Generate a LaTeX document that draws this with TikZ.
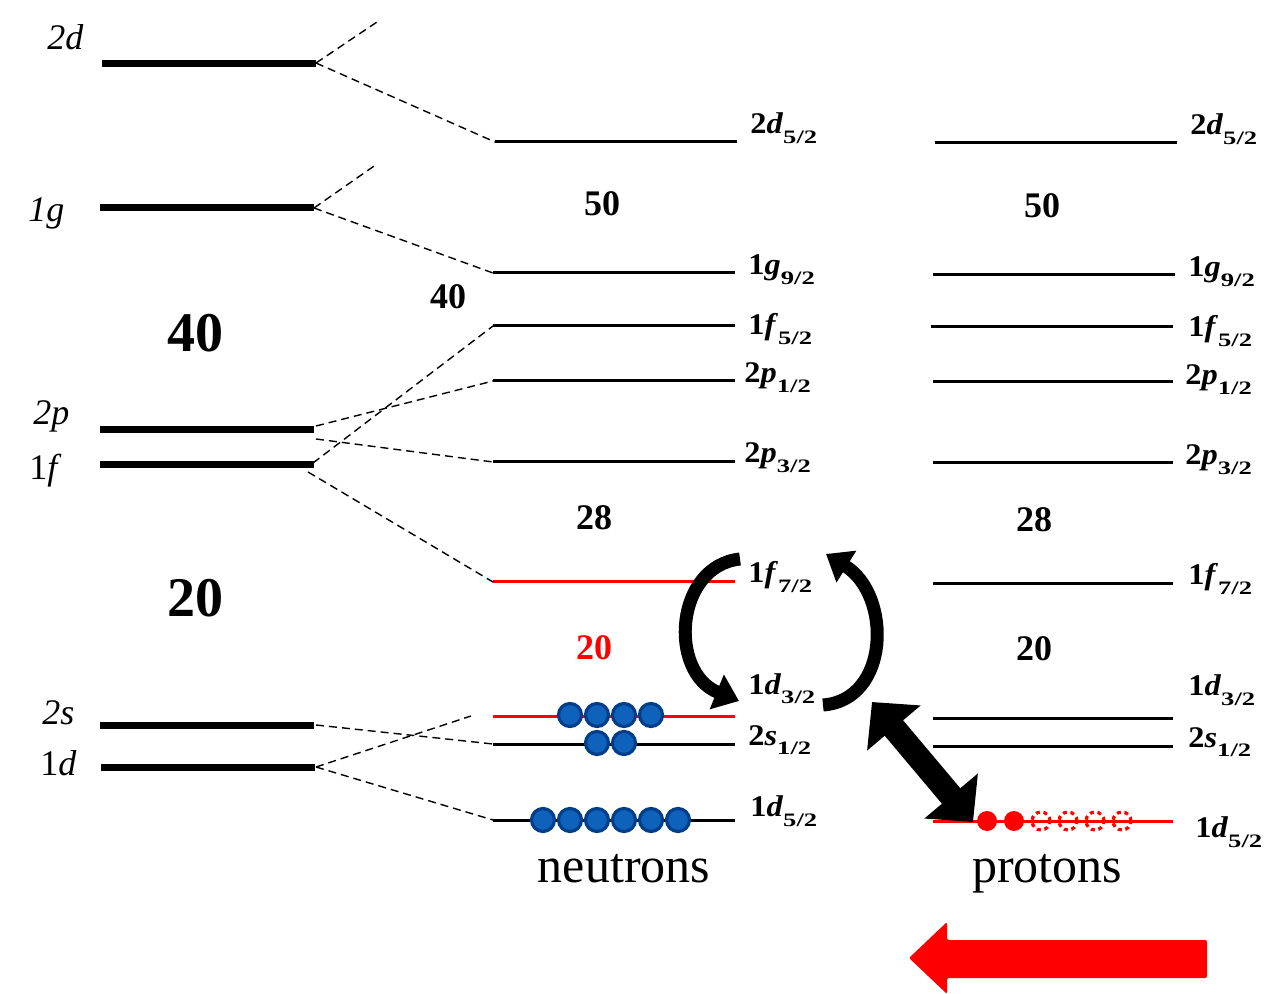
\documentclass[tikz,border=0pt]{standalone}
\usepackage{fontspec}
\setmainfont{Liberation Serif}
\usetikzlibrary{arrows.meta}
\definecolor{ballfill}{RGB}{14,98,188}
\definecolor{ballline}{RGB}{0,62,138}
\newcommand{\jlab}[3]{\fontsize{15}{15}\selectfont\scalebox{1.08}[1]{\textbf{#1\textit{#2}}}\raisebox{-5pt}{\scalebox{1.4}[1]{\fontsize{9.5}{9.5}\selectfont\textbf{#3}}}}
\newcommand{\llab}[2]{\fontsize{18}{18}\selectfont #1\textit{#2}}
\begin{document}
\begin{tikzpicture}[x=0.5pt,y=-0.5pt,
  thicklvl/.style={line width=3.5pt},
  lvl/.style={line width=1.5pt},
  redlvl/.style={line width=1.5pt, draw=red},
  split/.style={line width=0.7pt, dash pattern=on 4pt off 2.5pt},
  jl/.style={anchor=base west, inner sep=0pt},
  ll/.style={anchor=base west, inner sep=0pt},
  magic/.style={anchor=base, inner sep=0pt, font=\fontsize{18}{18}\selectfont\bfseries},
  bigmagic/.style={anchor=base, inner sep=0pt, font=\fontsize{28}{28}\selectfont\bfseries},
  side/.style={anchor=base, inner sep=0pt, font=\fontsize{25}{25}\selectfont},
  nball/.style={circle, fill=ballfill, draw=ballline, line width=1.6pt, minimum size=11.5pt, inner sep=0pt},
  pball/.style={circle, fill=red, minimum size=10pt, inner sep=0pt},
  hole/.style={circle, draw=red, line width=1.6pt, dash pattern=on 2pt off 1.8pt, minimum size=9pt, inner sep=0pt},
  curvarrow/.style={line width=6.5pt, -{Triangle[length=12pt,width=18pt]}}
]
\useasboundingbox (0,0) rectangle (1270,994);

% ---------- left: unsplit levels ----------
\coordinate (A1) at (102,64);  \coordinate (A2) at (316,64);
\coordinate (B1) at (100,208); \coordinate (B2) at (314,208);
\coordinate (C1) at (100,430); \coordinate (C2) at (314,430);
\coordinate (D1) at (100,465); \coordinate (D2) at (314,465);
\coordinate (E1) at (100,725); \coordinate (E2) at (314,725);
\coordinate (F1) at (101,767); \coordinate (F2) at (315,767);
\draw[thicklvl] (A1) -- (A2);
\draw[thicklvl] (B1) -- (B2);
\draw[thicklvl] (C1) -- (C2);
\draw[thicklvl] (D1) -- (D2);
\draw[thicklvl] (E1) -- (E2);
\draw[thicklvl] (F1) -- (F2);
\node[ll] (l2d) at (47,50)  {\llab{}{2d}};
\node[ll] (l1g) at (28,222) {\llab{}{1g}};
\node[ll] (l2p) at (33,425) {\llab{}{2p}};
\node[ll] (l1f) at (29,480) {\llab{1}{f}};
\node[ll] (l2s) at (42,725) {\llab{}{2s}};
\node[ll] (l1d) at (40,775) {\llab{1}{d}};
\node[bigmagic] (m40L) at (195,352) {40};
\node[bigmagic] (m20L) at (195,617) {20};

% ---------- neutrons ----------
\coordinate (n1a) at (495,142); \coordinate (n1b) at (737,142);
\coordinate (n2a) at (493,273); \coordinate (n2b) at (735,273);
\coordinate (n3a) at (493,326); \coordinate (n3b) at (735,326);
\coordinate (n4a) at (493,381); \coordinate (n4b) at (735,381);
\coordinate (n5a) at (493,462); \coordinate (n5b) at (735,462);
\coordinate (n6a) at (493,582); \coordinate (n6b) at (735,582);
\coordinate (n7a) at (493,716); \coordinate (n7b) at (735,716);
\coordinate (n8a) at (493,744); \coordinate (n8b) at (735,744);
\coordinate (n9a) at (493,820); \coordinate (n9b) at (735,820);
\draw[lvl] (n1a) -- (n1b);
\draw[lvl] (n2a) -- (n2b);
\draw[lvl] (n3a) -- (n3b);
\draw[lvl] (n4a) -- (n4b);
\draw[lvl] (n5a) -- (n5b);
\draw[redlvl] (n6a) -- (n6b);
\draw[redlvl] (n7a) -- (n7b);
\draw[lvl] (n8a) -- (n8b);
\draw[lvl] (n9a) -- (n9b);
\node[jl] (nj1) at (750,134) {\jlab{2}{d}{5/2}};
\node[jl] (nj2) at (748,275) {\jlab{1}{g}{9/2}};
\node[jl] (nj3) at (748,335) {\jlab{1}{f}{5/2}};
\node[jl] (nj4) at (744,383) {\jlab{2}{p}{1/2}};
\node[jl] (nj5) at (744,463) {\jlab{2}{p}{3/2}};
\node[jl] (nj6) at (748,583) {\jlab{1}{f}{7/2}};
\node[jl] (nj7) at (748,694) {\jlab{1}{d}{3/2}};
\node[jl] (nj8) at (748,745) {\jlab{2}{s}{1/2}};
\node[jl] (nj9) at (750,816) {\jlab{1}{d}{5/2}};
\node[magic] (nm50) at (602,216) {50};
\node[magic] (nm40) at (448,309) {40};
\node[magic] (nm28) at (594,530) {28};
\node[magic, text=red] (nm20) at (594,660) {20};
\node[side] (neut) at (624,882) {neutrons};

% neutron occupation
\foreach \x in {570,597,624,651} \node[nball] at (\x,715) {};
\foreach \x in {597,624} \node[nball] at (\x,743) {};
\foreach \x in {543,570,597,624,651,678} \node[nball] at (\x,820) {};

% ---------- splitting lines ----------
\coordinate (s2d) at (380,20);
\coordinate (s1g) at (377,164);
\coordinate (s1d) at (471,716);
\draw[split] (316,63) -- (s2d);
\draw[split] (316,63) -- (n1a);
\draw[split] (314,208) -- (s1g);
\draw[split] (314,208) -- (n2a);
\draw[split] (316,426) -- (n4a);
\draw[split] (316,439) -- (n5a);
\draw[split] (313,463) -- (n3a);
\draw[split] (308,472) -- (n6a);
\draw[split] (316,725) -- (n8a);
\draw[split] (316,767) -- (s1d);
\draw[split] (316,767) -- (n9a);

% ---------- protons ----------
\coordinate (p1a) at (935,143); \coordinate (p1b) at (1177,143);
\coordinate (p2a) at (933,275); \coordinate (p2b) at (1175,275);
\coordinate (p3a) at (931,327); \coordinate (p3b) at (1173,327);
\coordinate (p4a) at (933,382); \coordinate (p4b) at (1173,382);
\coordinate (p5a) at (933,463); \coordinate (p5b) at (1173,463);
\coordinate (p6a) at (933,584); \coordinate (p6b) at (1173,584);
\coordinate (p7a) at (933,718); \coordinate (p7b) at (1173,718);
\coordinate (p8a) at (933,746); \coordinate (p8b) at (1173,746);
\coordinate (p9a) at (933,821); \coordinate (p9b) at (1173,821);
\draw[lvl] (p1a) -- (p1b);
\draw[lvl] (p2a) -- (p2b);
\draw[lvl] (p3a) -- (p3b);
\draw[lvl] (p4a) -- (p4b);
\draw[lvl] (p5a) -- (p5b);
\draw[lvl] (p6a) -- (p6b);
\draw[lvl] (p7a) -- (p7b);
\draw[lvl] (p8a) -- (p8b);
\draw[redlvl] (p9a) -- (p9b);
\node[jl] (pj1) at (1190,135) {\jlab{2}{d}{5/2}};
\node[jl] (pj2) at (1188,277) {\jlab{1}{g}{9/2}};
\node[jl] (pj3) at (1188,337) {\jlab{1}{f}{5/2}};
\node[jl] (pj4) at (1185,385) {\jlab{2}{p}{1/2}};
\node[jl] (pj5) at (1185,465) {\jlab{2}{p}{3/2}};
\node[jl] (pj6) at (1188,585) {\jlab{1}{f}{7/2}};
\node[jl] (pj7) at (1188,696) {\jlab{1}{d}{3/2}};
\node[jl] (pj8) at (1188,747) {\jlab{2}{s}{1/2}};
\node[jl] (pj9) at (1195,837) {\jlab{1}{d}{5/2}};
\node[magic] (pm50) at (1042,218) {50};
\node[magic] (pm28) at (1034,532) {28};
\node[magic] (pm20) at (1034,661) {20};
\node[side] (prot) at (1047,882) {protons};

% proton occupation
\foreach \x in {987,1014} \node[pball] at (\x,821) {};
\foreach \x in {1041,1068,1095,1122} \node[hole] at (\x,821) {};

% ---------- arrows ----------
\coordinate (c1s) at (740,559);
\coordinate (c1e) at (739,701);
\draw[curvarrow] (c1s) .. controls (675,566) and (668,672) .. (c1e);
\coordinate (c2s) at (823,705);
\coordinate (c2e) at (826,554);
\draw[curvarrow] (c2s) .. controls (890,700) and (892,595) .. (c2e);

\coordinate (dA) at (872,702);
\coordinate (dB) at (973,822);
\draw[line width=12pt, {Triangle[length=17pt,width=34pt]}-{Triangle[length=17pt,width=34pt]}] (dA) -- (dB);

\fill[red, rounded corners=1pt] (909,958) -- (947,922) -- (947,940) -- (1207,940) -- (1207,978) -- (947,978) -- (947,994) -- cycle;
\end{tikzpicture}
\end{document}
